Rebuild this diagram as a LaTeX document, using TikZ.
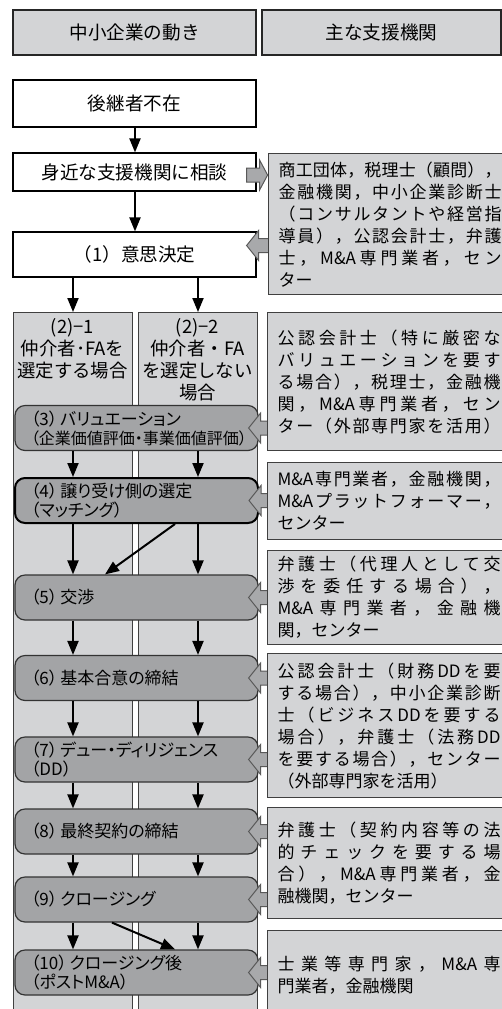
\documentclass[tikz,border=0pt]{standalone}
\usepackage{fontspec}
\setmainfont{Noto Sans CJK JP}
\newfontfamily\jpp{Noto Sans CJK JP}[RawFeature=+palt]
\usetikzlibrary{arrows.meta,calc}
\definecolor{lightg}{RGB}{211,212,214}
\definecolor{boxg}{RGB}{163,164,166}
\definecolor{blkg}{RGB}{168,169,171}
\newlength\dw
\setlength\dw{111.5pt}
\def\distA#1{#1\distB}
\def\distB#1{\ifx\relax#1\else\hfil#1\expandafter\distB\fi}
\newcommand\dist[1]{\leavevmode\hbox to \dw{\distA#1\relax}}
\tikzset{
  larr/.pic={\draw[blk] (0,0) -- (12,-15) -- (12,-7) -- (23,-7) -- (23,7) -- (12,7) -- (12,15) -- cycle;},
  rarr/.pic={\draw[blk] (0,0) -- (-8,-15) -- (-8,-7) -- (-21,-7) -- (-21,7) -- (-8,7) -- (-8,15) -- cycle;}
}
\begin{document}
\begin{tikzpicture}[x=0.5pt,y=-0.5pt,
  hdr/.style={draw=black!85,line width=1pt,fill=lightg,font=\fontsize{9.3}{11}\selectfont,inner sep=0pt},
  topbox/.style={draw=black,line width=0.6pt,fill=white,minimum width=121.5pt,font=\fontsize{9.3}{11}\selectfont,inner sep=0pt},
  colbox/.style={draw=black!75,line width=0.5pt,fill=lightg,inner sep=0pt},
  chead/.style={align=center,inner sep=0pt,font=\fontsize{9.2}{11}\selectfont},
  pbox/.style={draw=black!80,line width=0.6pt,fill=boxg,rounded corners=5pt,minimum width=121.5pt,minimum height=22.5pt,text width=105.5pt,inner xsep=8pt,inner ysep=0pt,align=left,font=\jpp\fontsize{8.5}{9.5}\selectfont},
  rbox/.style={draw=black!75,line width=0.6pt,fill=lightg,anchor=north west,text width=111.5pt,inner xsep=5pt,inner ysep=0pt,align=left,font=\fontsize{8.5}{11}\selectfont},
  arr/.style={-{Triangle[length=7pt,width=5.5pt]},line width=1pt,black},
  blk/.style={draw=black!65,line width=0.5pt,fill=blkg},
]
\useasboundingbox (0,0) rectangle (502,1009);
\clip (0,0) rectangle (502,1009);

% headers
\node[hdr,minimum width=121.5pt,minimum height=22.5pt] (h1) at (134.5,32.5) {中小企業の動き};
\node[hdr,minimum width=119.5pt,minimum height=22.5pt] (h2) at (381.5,32.5) {主な支援機関};

% top flow
\node[topbox,minimum height=23.5pt] (t0) at (134.5,103.5) {後継者不在};
\node[topbox,minimum height=19pt] (t1) at (134.5,172) {身近な支援機関に相談};
\node[topbox,minimum height=22.5pt] (t2) at (134.5,254.5) {（1）意思決定};

\path (135,0) coordinate (xm) (73,0) coordinate (xl) (198,0) coordinate (xr)
      (175,0) coordinate (xa) (105,0) coordinate (xb) (112,0) coordinate (xc);

\draw[arr] (t0.south -| xm) -- (t1.north -| xm);
\draw[arr] (t1.south -| xm) -- (t2.north -| xm);

% columns
\node[colbox,anchor=north west,minimum width=59.5pt,minimum height=355pt] (cL) at (13,312) {};
\node[colbox,anchor=north west,minimum width=59.5pt,minimum height=355pt] (cR) at (138,312) {};
\draw[arr] (t2.south -| xl) -- (cL.north -| xl);
\draw[arr] (t2.south -| xr) -- (cR.north -| xr);

\node[chead] (hl) at (72.5,348.5) {(2)−1\\仲介者･FAを\\選定する場合};
\node[chead] (hr) at (197.5,360) {(2)−2\\仲介者・FA\\を選定しない\\場合};

% process boxes
\node[pbox] (b3) at (136.5,428) {（3）\,バリュエーション\\{\fontsize{8}{9.5}\selectfont（企業価値評価・事業価値評価）}};
\node[pbox,draw=black,line width=1pt] (b4) at (136.5,500.5) {（4）\,譲り受け側の選定\\（マッチング）};
\node[pbox] (b5) at (136.5,597.5) {（5）\,交渉};
\node[pbox] (b6) at (136.5,678) {（6）\,基本合意の締結};
\node[pbox] (b7) at (136.5,759.5) {（7）\,デュー・ディリジェンス\\（DD）};
\node[pbox] (b8) at (136.5,831.5) {（8）\,最終契約の締結};
\node[pbox] (b9) at (136.5,899.5) {（9）\,クロージング};
\node[pbox] (b10) at (136.5,972.5) {（10）\,クロージング後\\（ポストM\&A）};

% vertical arrows
\foreach \a/\b in {b3/b4,b4/b5,b5/b6,b6/b7,b7/b8,b8/b9,b9/b10}{
  \draw[arr] (\a.south -| xl) -- (\b.north -| xl);
  \draw[arr] (\a.south -| xr) -- (\b.north -| xr);
}
\draw[arr] (b4.south -| xa) -- (b5.north -| xb);
\draw[arr] (b9.south -| xc) -- (b10.north -| xa);

% block arrows
\foreach \b in {b3,b4,b5,b6,b7,b8,b9,b10}{
  \pic at ($(\b.east)+(-10,0)$) {larr};
}
\pic at ($(t2.east)+(-10,-9)$) {larr};
\pic at ($(t1.east)+(11,3)$) {rarr};

% support institution boxes
\node[rbox,minimum height=70.5pt] (r1) at (268,153) {\dist{商工団体，税理士（顧問），}\\\dist{金融機関，中小企業診断士}\\\dist{（コンサルタントや経営指}\\\dist{導員），公認会計士，弁護}\\\dist{士，{M\&A}専門業者，セン}\\ター};
\node[rbox,minimum height=69pt] (r2) at (267,312) {\dist{公認会計士（特に厳密な}\\\dist{バリュエーションを要す}\\\dist{る場合），税理士，金融機}\\\dist{関，{M\&A}専門業者，セン}\\\dist{ター（外部専門家を活用）}};
\node[rbox,minimum height=38.5pt] (r3) at (267,462) {\dist{{M\&A}専門業者，金融機関，}\\\dist{{M\&A}プラットフォーマー，}\\センター};
\node[rbox,minimum height=47pt] (r4) at (267,550) {\dist{弁護士（代理人として交}\\\dist{渉を委任する場合），}\\\dist{{M\&A}専門業者，金融機}\\関，センター};
\node[rbox,minimum height=72pt] (r5) at (267,653) {\dist{公認会計士（財務{DD}を要}\\\dist{する場合），中小企業診断}\\\dist{士（ビジネス{DD}を要する}\\\dist{場合），弁護士（法務{DD}}\\\dist{を要する場合），センター}\\（外部専門家を活用）};
\node[rbox,minimum height=55.5pt] (r6) at (267,807) {\dist{弁護士（契約内容等の法}\\\dist{的チェックを要する場}\\\dist{合），{M\&A}専門業者，金}\\融機関，センター};
\node[rbox,minimum height=45pt] (r7) at (267,930) {\dist{士業等専門家，{M\&A}専}\\門業者，金融機関};
\end{tikzpicture}
\end{document}
